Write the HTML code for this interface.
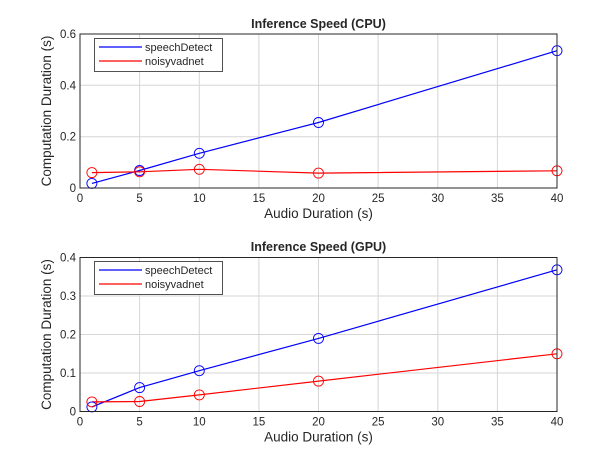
<!DOCTYPE html>
<html><head><meta charset="utf-8"><style>
body{margin:0;background:#fff;}
text{font-family:"Liberation Sans",Arial,sans-serif;fill:#262626;}
</style></head><body>
<svg width="616" height="462" xmlns="http://www.w3.org/2000/svg">
<rect width="616" height="462" fill="#fff"/>
<!-- TOP -->
<g>
<g stroke="#d6d6d6" stroke-width="1">
<line x1="139.6" y1="34" x2="139.6" y2="188"/><line x1="199.3" y1="34" x2="199.3" y2="188"/><line x1="258.9" y1="34" x2="258.9" y2="188"/><line x1="318.5" y1="34" x2="318.5" y2="188"/><line x1="378.1" y1="34" x2="378.1" y2="188"/><line x1="437.8" y1="34" x2="437.8" y2="188"/><line x1="497.4" y1="34" x2="497.4" y2="188"/>
<line x1="80" y1="136.7" x2="557" y2="136.7"/><line x1="80" y1="85.3" x2="557" y2="85.3"/>
</g>
<polyline fill="none" stroke="#0000ff" stroke-width="1.2" points="91.9,183.4 139.6,170.5 199.3,153.3 318.5,122.5 557,50.7"/>
<polyline fill="none" stroke="#ff0000" stroke-width="1.2" points="91.9,172.6 139.6,171.8 199.3,169.3 318.5,173.1 557,170.8"/>
<g fill="none" stroke="#0000ff" stroke-width="0.9"><circle cx="91.9" cy="183.4" r="5"/><circle cx="139.6" cy="170.5" r="5"/><circle cx="199.3" cy="153.3" r="5"/><circle cx="318.5" cy="122.5" r="5"/><circle cx="557" cy="50.7" r="5"/></g>
<g fill="none" stroke="#ff0000" stroke-width="0.9"><circle cx="91.9" cy="172.6" r="5"/><circle cx="139.6" cy="171.8" r="5"/><circle cx="199.3" cy="169.3" r="5"/><circle cx="318.5" cy="173.1" r="5"/><circle cx="557" cy="170.8" r="5"/></g>
<rect x="80" y="34" width="477" height="154" fill="none" stroke="#262626" stroke-width="1"/>
<rect x="94.5" y="38.5" width="128" height="33" fill="#fff" stroke="#262626" stroke-width="0.8"/>
<line x1="99" y1="47" x2="142" y2="47" stroke="#0000ff" stroke-width="1.2"/>
<line x1="99" y1="61" x2="142" y2="61" stroke="#ff0000" stroke-width="1.2"/>
<text x="145" y="51" font-size="11">speechDetect</text>
<text x="145" y="65" font-size="11">noisyvadnet</text>
<text x="318.5" y="28" font-size="12.5" font-weight="bold" text-anchor="middle">Inference Speed (CPU)</text>
<g font-size="11.5" text-anchor="middle">
<text x="80" y="202">0</text><text x="139.6" y="202">5</text><text x="199.3" y="202">10</text><text x="258.9" y="202">15</text><text x="318.5" y="202">20</text><text x="378.1" y="202">25</text><text x="437.8" y="202">30</text><text x="497.4" y="202">35</text><text x="557" y="202">40</text>
</g>
<g font-size="11.5" text-anchor="end">
<text x="76" y="192">0</text><text x="76" y="140.7">0.2</text><text x="76" y="89.3">0.4</text><text x="76" y="38">0.6</text>
</g>
<text x="318.5" y="218" font-size="13.5" text-anchor="middle">Audio Duration (s)</text>
<text transform="translate(51,111) rotate(-90)" font-size="13.5" text-anchor="middle">Computation Duration (s)</text>
</g>
<!-- BOTTOM -->
<g>
<g stroke="#d6d6d6" stroke-width="1">
<line x1="139.6" y1="257.5" x2="139.6" y2="411.5"/><line x1="199.3" y1="257.5" x2="199.3" y2="411.5"/><line x1="258.9" y1="257.5" x2="258.9" y2="411.5"/><line x1="318.5" y1="257.5" x2="318.5" y2="411.5"/><line x1="378.1" y1="257.5" x2="378.1" y2="411.5"/><line x1="437.8" y1="257.5" x2="437.8" y2="411.5"/><line x1="497.4" y1="257.5" x2="497.4" y2="411.5"/>
<line x1="80" y1="373" x2="557" y2="373"/><line x1="80" y1="334.5" x2="557" y2="334.5"/><line x1="80" y1="296" x2="557" y2="296"/>
</g>
<polyline fill="none" stroke="#0000ff" stroke-width="1.2" points="91.9,406.9 139.6,387.6 199.3,370.7 318.5,338.4 557,269.8"/>
<polyline fill="none" stroke="#ff0000" stroke-width="1.2" points="91.9,401.9 139.6,401.5 199.3,394.9 318.5,381.1 557,353.8"/>
<g fill="none" stroke="#0000ff" stroke-width="0.9"><circle cx="91.9" cy="406.9" r="5"/><circle cx="139.6" cy="387.6" r="5"/><circle cx="199.3" cy="370.7" r="5"/><circle cx="318.5" cy="338.4" r="5"/><circle cx="557" cy="269.8" r="5"/></g>
<g fill="none" stroke="#ff0000" stroke-width="0.9"><circle cx="91.9" cy="401.9" r="5"/><circle cx="139.6" cy="401.5" r="5"/><circle cx="199.3" cy="394.9" r="5"/><circle cx="318.5" cy="381.1" r="5"/><circle cx="557" cy="353.8" r="5"/></g>
<rect x="80" y="257.5" width="477" height="154" fill="none" stroke="#262626" stroke-width="1"/>
<rect x="94.5" y="261.5" width="128" height="33" fill="#fff" stroke="#262626" stroke-width="0.8"/>
<line x1="99" y1="270" x2="142" y2="270" stroke="#0000ff" stroke-width="1.2"/>
<line x1="99" y1="284" x2="142" y2="284" stroke="#ff0000" stroke-width="1.2"/>
<text x="145" y="274" font-size="11">speechDetect</text>
<text x="145" y="288" font-size="11">noisyvadnet</text>
<text x="318.5" y="251" font-size="12.5" font-weight="bold" text-anchor="middle">Inference Speed (GPU)</text>
<g font-size="11.5" text-anchor="middle">
<text x="80" y="425.5">0</text><text x="139.6" y="425.5">5</text><text x="199.3" y="425.5">10</text><text x="258.9" y="425.5">15</text><text x="318.5" y="425.5">20</text><text x="378.1" y="425.5">25</text><text x="437.8" y="425.5">30</text><text x="497.4" y="425.5">35</text><text x="557" y="425.5">40</text>
</g>
<g font-size="11.5" text-anchor="end">
<text x="76" y="415.5">0</text><text x="76" y="377">0.1</text><text x="76" y="338.5">0.2</text><text x="76" y="300">0.3</text><text x="76" y="261.5">0.4</text>
</g>
<text x="318.5" y="441.5" font-size="13.5" text-anchor="middle">Audio Duration (s)</text>
<text transform="translate(51,334.5) rotate(-90)" font-size="13.5" text-anchor="middle">Computation Duration (s)</text>
</g>
</svg>
</body></html>
